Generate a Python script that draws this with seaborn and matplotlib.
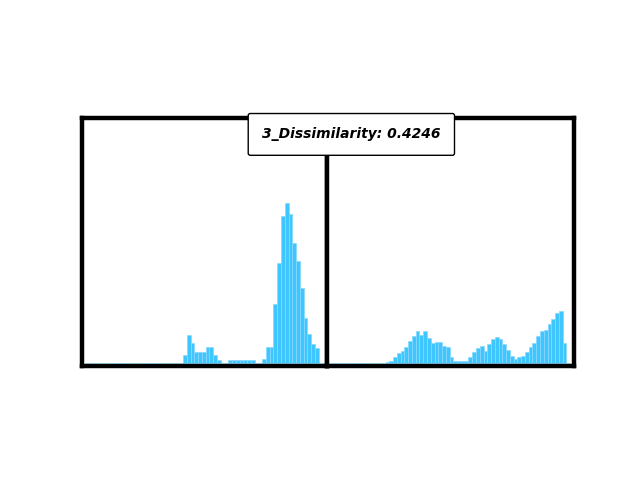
import matplotlib
matplotlib.use("Agg")
import matplotlib.pyplot as plt
import seaborn as sns
import pandas as pd

# histogram counts per bin (64 bins each panel)
bins = list(range(64))
left_counts = [0] * 26 + [8, 28, 20, 11, 11, 11, 16, 16, 8, 3, 0, 0,
                          3, 3, 3, 3, 3, 3, 3, 0, 0, 4, 16, 16,
                          59, 100, 147, 160, 149, 120, 102, 75, 45, 29,
                          19, 15, 0, 0]
right_counts = [0] * 15 + [1, 2, 6, 10, 12, 16, 22, 27, 32, 28, 32, 25,
                           20, 21, 21, 17, 16, 6, 2, 2, 2, 2, 6, 11,
                           15, 17, 12, 19, 24, 26, 24, 19, 13, 7, 4, 6,
                           7, 11, 16, 20, 27, 32, 33, 39, 44, 50, 52, 20, 0]
title_text = "3_Dissimilarity: 0.4246"

left = pd.DataFrame({"bin": bins, "count": left_counts})
right = pd.DataFrame({"bin": bins, "count": right_counts})

fig = plt.figure(figsize=(6.4, 4.8), dpi=100)
ax1 = fig.add_axes([0.1284, 0.2369, 0.3833, 0.5165])
ax2 = fig.add_axes([0.5117, 0.2369, 0.3845, 0.5165])

for ax, df, xl in [(ax1, left, (-1.24, 63.83)), (ax2, right, (-0.9, 64.4))]:
    sns.barplot(data=df, x="bin", y="count", ax=ax, color="#40c6ff",
                saturation=1, width=1.0, edgecolor="#86d9ff", linewidth=0.5,
                errorbar=None)
    ax.set_xlim(*xl)
    ax.set_ylim(-3.3, 244.6)
    ax.set_xticks([])
    ax.set_yticks([])
    ax.set_xlabel("")
    ax.set_ylabel("")
    for s in ax.spines.values():
        s.set_linewidth(3.2)
        s.set_color("black")

fig.text(0.549, 0.72, title_text, ha="center", va="center",
         fontsize=10, fontweight="bold", fontstyle="italic", zorder=10,
         bbox=dict(boxstyle="round,pad=1.0,rounding_size=0.15",
                   facecolor="white", edgecolor="black", linewidth=1.0))

fig.savefig("out.png", dpi=100)
